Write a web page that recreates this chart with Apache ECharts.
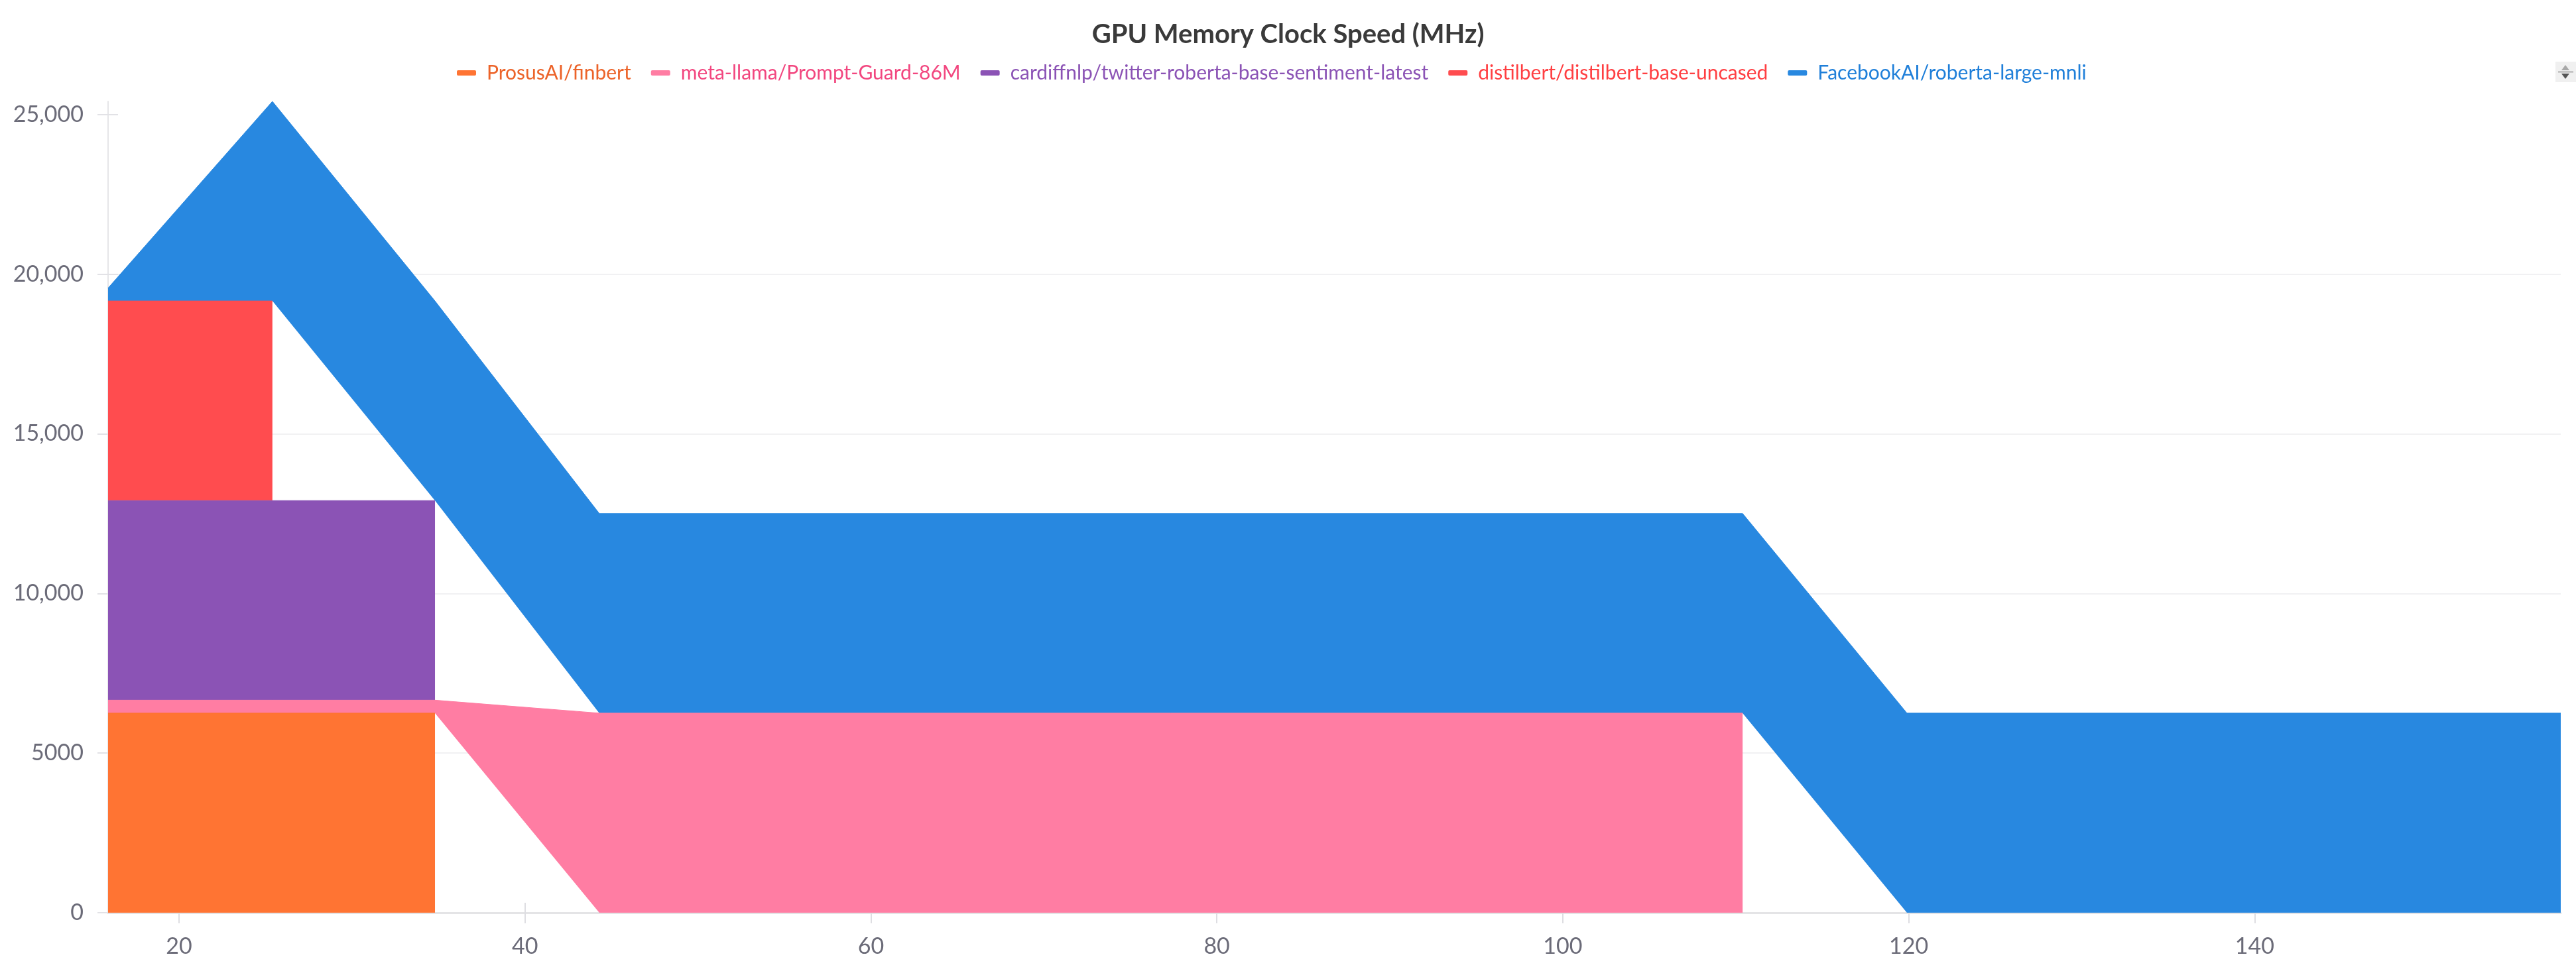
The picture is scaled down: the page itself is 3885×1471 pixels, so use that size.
<!DOCTYPE html>
<html><head><meta charset="utf-8">
<script src="https://cdn.jsdelivr.net/npm/echarts@6/dist/echarts.min.js"></script>
<style>html,body{margin:0;padding:0;background:#fff}#c{width:3885px;height:1471px}</style>
</head><body><div id="c"></div>
<script>
// ---- data ----
const xValues = [15.9, 25.4, 34.8, 44.3, 110.4, 119.9, 157.7];
const finbert = [6251, 6251, 6251, null, null, null, null];
const promptGuard = [405, 405, 405, 6251, 6251, null, null];
const cardiffnlp = [6251, 6251, 6251, null, null, null, null];
const distilbert = [6251, 6251, null, null, null, null, null];
const robertaMnli = [405, 6251, 6251, 6251, 6251, 6251, 6251];
const seriesNames = [
  'ProsusAI/finbert',
  'meta-llama/Prompt-Guard-86M',
  'cardiffnlp/twitter-roberta-base-sentiment-latest',
  'distilbert/distilbert-base-uncased',
  'FacebookAI/roberta-large-mnli'
];
const xTicks = [20, 40, 60, 80, 100, 120, 140];
const yTicks = [0, 5000, 10000, 15000, 20000, 25000];
const titleText = 'GPU Memory Clock Speed (MHz)';

// ---- styles ----
const fillColors = ['#FF7433', '#FF7DA3', '#8B53B5', '#FF4C4F', '#2888E0'];
const textColors = ['#EC6329', '#F2467F', '#8B53B5', '#FF3F42', '#1F7FD9'];
const FONT = 'Lato, "Noto Sans", sans-serif';
const labelColor = '#6b6b78';

const allValues = [finbert, promptGuard, cardiffnlp, distilbert, robertaMnli];
const xMin = Math.min(...xValues), xMax = Math.max(...xValues);
let yMax = 0;
xValues.forEach((_, i) => {
  let s = 0; allValues.forEach(a => { if (a[i] != null) s += a[i]; });
  yMax = Math.max(yMax, s);
});

function fmtY(v) {
  return Math.abs(v) >= 10000 ? v.toLocaleString('en-US') : String(v);
}

const series = allValues.map((vals, k) => ({
  name: seriesNames[k],
  type: 'line',
  stack: 'total',
  xAxisIndex: 0, yAxisIndex: 0,
  encode: { x: 1, y: 0 },
  data: xValues.map((x, i) => [vals[i], x]),
  showSymbol: false,
  symbol: 'none',
  color: fillColors[k],
  lineStyle: { width: 1, color: fillColors[k] },
  areaStyle: { color: fillColors[k], opacity: 1 },
  emphasis: { disabled: true },
  animation: false
}));

const chart = echarts.init(document.getElementById('c'), null, { renderer: 'canvas' });
chart.setOption({
  animation: false,
  backgroundColor: '#ffffff',
  title: {
    text: titleText, left: 'center', top: 27,
    textStyle: { fontFamily: FONT, fontSize: 40, fontWeight: 'bold', color: '#3a3a3a' }
  },
  legend: {
    data: seriesNames.map((n, k) => ({ name: n, textStyle: { color: textColors[k] } })),
    left: 684, top: 90,
    icon: 'roundRect', itemWidth: 29, itemHeight: 8, itemGap: 30,
    textStyle: { fontFamily: FONT, fontSize: 30, padding: [0, 0, 0, 11] },
    selectedMode: false
  },
  grid: { left: 163, right: 23, top: 153, bottom: 94, containLabel: false },
  xAxis: [{
    type: 'value', min: xMin, max: xMax,
    axisLine: { show: true, lineStyle: { color: '#e4e4e6', width: 3 } },
    axisTick: { show: true, customValues: xTicks, length: 16, lineStyle: { color: '#dedee2', width: 2 } },
    axisLabel: { customValues: xTicks, margin: 34, fontFamily: FONT, fontSize: 34, color: labelColor },
    splitLine: { show: false }
  }, {
    type: 'value', min: xMin, max: xMax, position: 'bottom',
    axisLine: { show: false },
    axisTick: { show: true, inside: true, customValues: xTicks, length: 15, lineStyle: { color: '#dedee2', width: 2 } },
    axisLabel: { show: false },
    splitLine: { show: false }
  }],
  yAxis: [{
    type: 'value', min: 0, max: yMax,
    axisLine: { show: true, lineStyle: { color: '#e6e6e8', width: 2 } },
    axisTick: { show: true, customValues: yTicks, length: 16, lineStyle: { color: '#e2e2e6', width: 2 } },
    axisLabel: { customValues: yTicks, formatter: fmtY, margin: 37, fontFamily: FONT, fontSize: 34, color: labelColor },
    splitLine: { show: true, showMaxLine: false, lineStyle: { color: '#f1f1f3', width: 2 } }
  }, {
    type: 'value', min: 0, max: yMax, position: 'left',
    axisLine: { show: false },
    axisTick: { show: true, inside: true, customValues: yTicks, length: 15, lineStyle: { color: '#e2e2e6', width: 2 } },
    axisLabel: { show: false },
    splitLine: { show: false }
  }],
  graphic: [{
    type: 'group', left: 3854, top: 93,
    children: [
      { type: 'rect', shape: { x: 0, y: 0, width: 31, height: 31 }, style: { fill: '#f0f0f0' } },
      { type: 'polygon', shape: { points: [[15, 5], [9, 13], [21, 13]] }, style: { fill: '#a8a8a8' } },
      { type: 'line', shape: { x1: 4, y1: 15.5, x2: 27, y2: 15.5 }, style: { stroke: '#b0b0b0', lineWidth: 2 } },
      { type: 'polygon', shape: { points: [[9, 18], [21, 18], [15, 26]] }, style: { fill: '#555555' } }
    ]
  }],
  series: series
});
</script>
</body></html>
